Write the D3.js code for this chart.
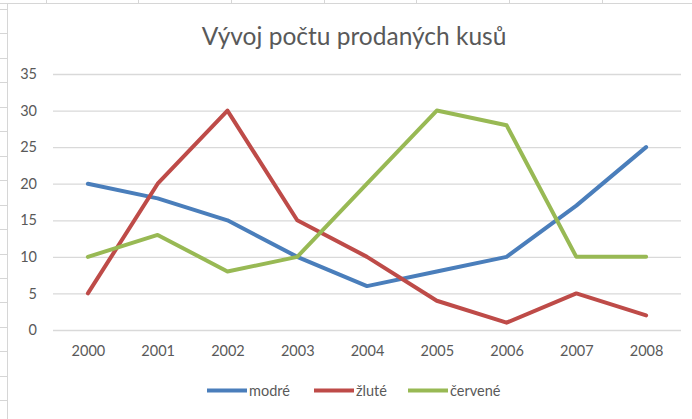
<!DOCTYPE html>
<html>
<head>
<meta charset="utf-8">
<script src="https://cdn.jsdelivr.net/npm/d3@7"></script>
<style>
  html, body { margin: 0; padding: 0; background: #fff; }
  svg { display: block; }
  text { font-family: Lato, "Open Sans", sans-serif; fill: #595959; }
</style>
</head>
<body>
<svg id="chart" width="692" height="419"></svg>
<script>
// Sales data per year
const years = ["2000", "2001", "2002", "2003", "2004", "2005", "2006", "2007", "2008"];
const modre = [20, 18, 15, 10, 6, 8, 10, 17, 25];
const zlute = [5, 20, 30, 15, 10, 4, 1, 5, 2];
const cervene = [10, 13, 8, 10, 20, 30, 28, 10, 10];
const seriesNames = ["modré", "žluté", "červené"];
const seriesColors = ["#4a7ebb", "#be4b48", "#98b954"];
const yTicks = [0, 5, 10, 15, 20, 25, 30, 35];
const title = "Vývoj počtu prodaných kusů";

const series = [modre, zlute, cervene].map((vals, i) => ({
  name: seriesNames[i], color: seriesColors[i], values: vals
}));

const svg = d3.select("#chart");
const W = 692, H = 419;

// Worksheet cell grid showing around the embedded chart
const sheet = svg.append("g").attr("stroke", "#d6d6d6").attr("stroke-width", 1);
sheet.append("line").attr("x1", 0).attr("x2", W).attr("y1", 3.5).attr("y2", 3.5);
sheet.append("line").attr("x1", 7.5).attr("x2", 7.5).attr("y1", 3).attr("y2", H);
d3.range(9, H, 24.45).forEach(y => {
  sheet.append("line").attr("x1", 0).attr("x2", 7).attr("y1", Math.round(y) + 0.5).attr("y2", Math.round(y) + 0.5);
});
d3.range(45.5, W, 92.7).forEach(x => {
  sheet.append("line").attr("x1", Math.round(x) + 0.5).attr("x2", Math.round(x) + 0.5).attr("y1", 0).attr("y2", 3);
});

// Plot area
const x = d3.scalePoint().domain(years).range([53, 681]).padding(0.5);
const y = d3.scaleLinear().domain([0, 35]).range([330, 74]);

// Horizontal gridlines
svg.append("g")
  .attr("transform", "translate(0,0)")
  .call(d3.axisLeft(y).tickValues(yTicks).tickSize(-(681 - 53)).tickFormat(""))
  .attr("transform", "translate(53,0)")
  .call(g => g.select(".domain").remove())
  .call(g => g.selectAll(".tick line").attr("stroke", "#d9d9d9").attr("stroke-width", 1.3));

// Y tick labels
svg.append("g")
  .attr("transform", "translate(37,0)")
  .call(d3.axisLeft(y).tickValues(yTicks).tickSize(0).tickPadding(0))
  .call(g => g.select(".domain").remove())
  .call(g => g.selectAll("text")
    .attr("font-size", 14.5).attr("fill", "#595959")
    .attr("font-family", "Lato, sans-serif"));

// X tick labels
svg.append("g")
  .attr("transform", "translate(0,330)")
  .call(d3.axisBottom(x).tickSize(0).tickPadding(16))
  .call(g => g.select(".domain").remove())
  .call(g => g.selectAll("text")
    .attr("font-size", 14.5).attr("fill", "#595959")
    .attr("font-family", "Lato, sans-serif"));

// Lines
const line = d3.line()
  .x((d, i) => x(years[i]))
  .y(d => y(d));

svg.append("g").selectAll("path")
  .data(series)
  .join("path")
  .attr("d", d => line(d.values))
  .attr("fill", "none")
  .attr("stroke", d => d.color)
  .attr("stroke-width", 4)
  .attr("stroke-linejoin", "round")
  .attr("stroke-linecap", "round");

// Title
svg.append("text")
  .attr("x", 354).attr("y", 45)
  .attr("text-anchor", "middle")
  .attr("font-size", 24.5)
  .text(title);

// Legend
const legendX = [207, 314, 408];
const legend = svg.append("g").selectAll("g")
  .data(series)
  .join("g")
  .attr("transform", (d, i) => `translate(${legendX[i]},390.5)`);
legend.append("line")
  .attr("x1", 0).attr("x2", 40)
  .attr("stroke", d => d.color).attr("stroke-width", 4);
legend.append("text")
  .attr("x", 42).attr("dy", "0.36em")
  .attr("font-size", 14.5)
  .text(d => d.name);
</script>
</body>
</html>
